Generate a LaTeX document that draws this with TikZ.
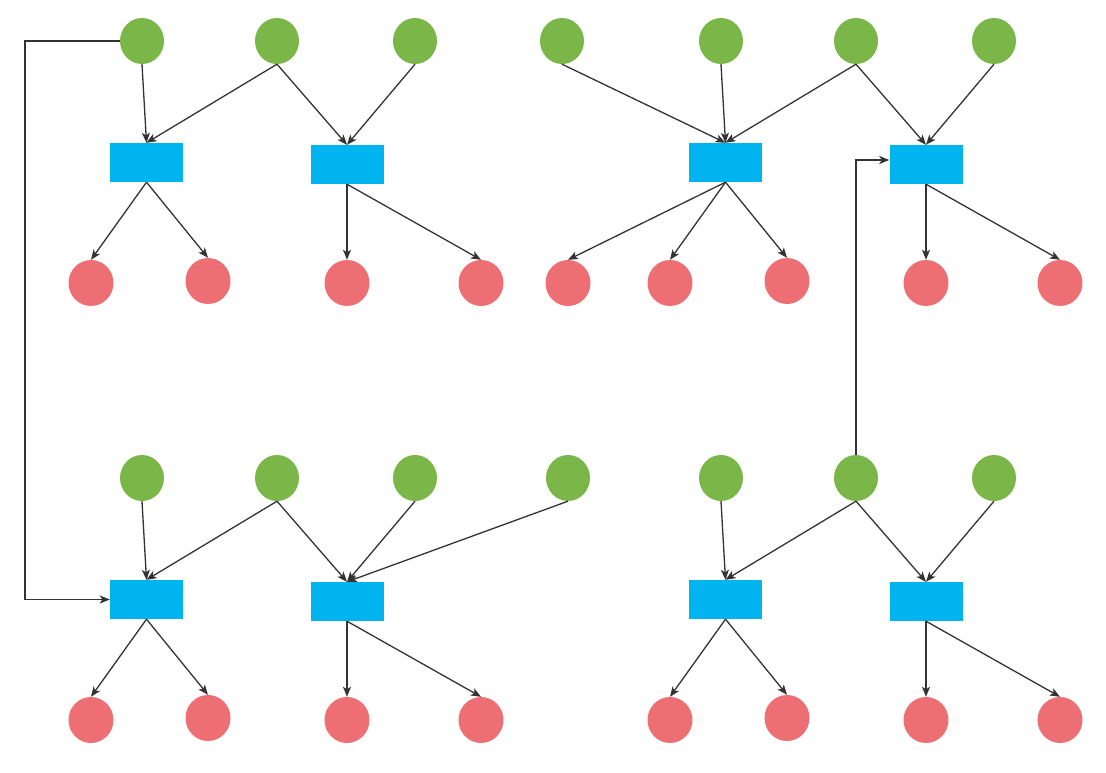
\documentclass[tikz,border=0pt]{standalone}
\usetikzlibrary{shapes.geometric,arrows.meta}
\definecolor{gr}{HTML}{7AB648}
\definecolor{bl}{HTML}{00B5EF}
\definecolor{rd}{HTML}{ED6E73}
\definecolor{ln}{HTML}{333333}
\begin{document}
\begin{tikzpicture}[x=1pt,y=-1pt,
  gnode/.style={ellipse,fill=gr,minimum width=44pt,minimum height=46pt,inner sep=0pt},
  rnode/.style={ellipse,fill=rd,minimum width=45pt,minimum height=46pt,inner sep=0pt},
  bnode/.style={rectangle,fill=bl,minimum width=73pt,minimum height=39pt,inner sep=0pt},
  conn/.style={draw=ln,line width=1.3pt,-{Stealth[length=10pt,width=8pt,inset=2.5pt]}}]
\useasboundingbox (0,0) rectangle (1106,773);
% top green
\node[gnode] (g1) at (142,41) {};
\node[gnode] (g2) at (277,41) {};
\node[gnode] (g3) at (415,41) {};
\node[gnode] (g4) at (562,41) {};
\node[gnode] (g5) at (721,41) {};
\node[gnode] (g6) at (856,41) {};
\node[gnode] (g7) at (994,41) {};
% bottom green
\node[gnode] (g8) at (142,478) {};
\node[gnode] (g9) at (277,478) {};
\node[gnode] (g10) at (415,478) {};
\node[gnode] (g11) at (568,478) {};
\node[gnode] (g12) at (721,478) {};
\node[gnode] (g13) at (856,478) {};
\node[gnode] (g14) at (994,478) {};
% blue
\node[bnode] (b1) at (146.5,162.5) {};
\node[bnode] (b2) at (347,164.5) {};
\node[bnode] (b3) at (725.5,162.5) {};
\node[bnode] (b4) at (926,164.5) {};
\node[bnode] (b5) at (146.5,599.5) {};
\node[bnode] (b6) at (347,601.5) {};
\node[bnode] (b7) at (725.5,599.5) {};
\node[bnode] (b8) at (926,601.5) {};
% red top
\node[rnode] (r1) at (91,283) {};
\node[rnode] (r2) at (208,281) {};
\node[rnode] (r3) at (347,283) {};
\node[rnode] (r4) at (481,283) {};
\node[rnode] (r5) at (568,283) {};
\node[rnode] (r6) at (670,283) {};
\node[rnode] (r7) at (787,281) {};
\node[rnode] (r8) at (926,283) {};
\node[rnode] (r9) at (1060,283) {};
% red bottom
\node[rnode] (r10) at (91,720) {};
\node[rnode] (r11) at (208,718) {};
\node[rnode] (r12) at (347,720) {};
\node[rnode] (r13) at (481,720) {};
\node[rnode] (r14) at (670,720) {};
\node[rnode] (r15) at (787,718) {};
\node[rnode] (r16) at (926,720) {};
\node[rnode] (r17) at (1060,720) {};
% green -> blue
\foreach \a/\b in {g1/b1,g2/b1,g2/b2,g3/b2,g4/b3,g5/b3,g6/b3,g6/b4,g7/b4,
  g8/b5,g9/b5,g9/b6,g10/b6,g11/b6,g12/b7,g13/b7,g13/b8,g14/b8}
  \draw[conn] (\a.south) -- (\b.north);
% blue -> red
\foreach \a/\b in {b1/r1,b1/r2,b2/r3,b2/r4,b3/r5,b3/r6,b3/r7,b4/r8,b4/r9,
  b5/r10,b5/r11,b6/r12,b6/r13,b7/r14,b7/r15,b8/r16,b8/r17}
  \draw[conn] (\a.south) -- (\b.north);
% elbows
\coordinate (c1) at (25,41);
\coordinate (c2) at (25,599.5);
\coordinate (c3) at (856,160);
\draw[conn] (g1.west) -- (c1) -- (c2) -- (b5.west);
\draw[conn] (g13.north) -- (c3) -- (c3 -| b4.west);
\end{tikzpicture}
\end{document}
